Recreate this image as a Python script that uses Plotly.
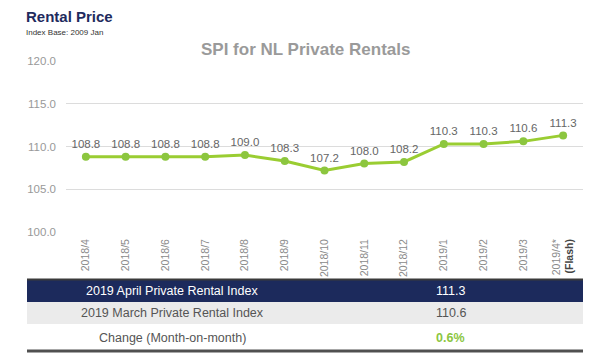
import plotly.graph_objects as go

months = ["2018/4", "2018/5", "2018/6", "2018/7", "2018/8", "2018/9", "2018/10",
          "2018/11", "2018/12", "2019/1", "2019/2", "2019/3", "2019/4*"]
tick_text = months[:-1] + ["2019/4*<br><b><span style='color:#444'>(Flash)</span></b>"]
values = [108.8, 108.8, 108.8, 108.8, 109.0, 108.3, 107.2, 108.0, 108.2, 110.3, 110.3, 110.6, 111.3]
y_ticks = [100, 105, 110, 115, 120]

table_labels = ["2019 April Private Rental Index", "2019 March Private Rental Index", "Change (Month-on-month)"]
table_values = ["111.3", "110.6", "0.6%"]

W, H = 600, 360
L, R, T, B = 66, 583, 61, 232  # plot area pixels
FONT = "Liberation Sans, Arial"


def px(x):
    return (x - L) / (R - L)


def py(y):
    return (B - y) / (B - T)


fig = go.Figure()
fig.add_trace(go.Scatter(
    x=months, y=values, mode="lines+markers+text",
    line=dict(color="#9ACD32", width=3),
    marker=dict(color="#8CC63F", size=8),
    text=[f"{v:.1f}" for v in values], textposition="top center",
    textfont=dict(family=FONT, size=11.5, color="#666666"),
    cliponaxis=False, hoverinfo="skip", showlegend=False,
))

fig.update_layout(
    width=W, height=H,
    margin=dict(l=L, r=W - R, t=T, b=H - B, pad=0),
    paper_bgcolor="white", plot_bgcolor="white",
    font=dict(family=FONT, color="#888888"),
    xaxis=dict(type="category", range=[-0.5, 12.5], tickmode="array",
               tickvals=months, ticktext=tick_text, tickangle=-90,
               tickfont=dict(size=10.5, color="#8a8a8a"), showgrid=False,
               showline=False, zeroline=False, ticks="", ticklabelstandoff=4,
               fixedrange=True),
    yaxis=dict(range=[100, 120], tickvals=y_ticks,
               ticktext=[f"{v:.1f}" for v in y_ticks],
               tickfont=dict(size=11.5, color="#999999"), gridcolor="#dcdcdc",
               gridwidth=1, showline=False, zeroline=False, ticks="",
               ticklabelstandoff=9, fixedrange=True),
)

shapes = []
# table rows
rows = [(279, 302, "#1c2a5c"), (302, 324, "#ebebeb"), (324, 350, "#ffffff")]
for y0, y1, c in rows:
    shapes.append(dict(type="rect", xref="paper", yref="paper", x0=px(27), x1=px(583),
                       y0=py(y1), y1=py(y0), fillcolor=c, line=dict(width=0), layer="above"))
shapes.append(dict(type="line", xref="paper", yref="paper", x0=px(27), x1=px(583),
                   y0=py(279.5), y1=py(279.5), line=dict(color="#3a3a3a", width=2)))
shapes.append(dict(type="line", xref="paper", yref="paper", x0=px(27), x1=px(583),
                   y0=py(351), y1=py(351), line=dict(color="#505050", width=3)))
fig.update_layout(shapes=shapes)

ann = []
ann.append(dict(text="<b>Rental Price</b>", x=px(24), y=py(16), xref="paper", yref="paper",
                xanchor="left", yanchor="middle", showarrow=False,
                font=dict(size=15, color="#1f2b5e", family=FONT)))
ann.append(dict(text="Index Base: 2009 Jan", x=px(24), y=py(32.5), xref="paper", yref="paper",
                xanchor="left", yanchor="middle", showarrow=False,
                font=dict(size=8, color="#333333", family=FONT)))
ann.append(dict(text="<b>SPI for NL Private Rentals</b>", x=px(305), y=py(49), xref="paper", yref="paper",
                xanchor="center", yanchor="middle", showarrow=False,
                font=dict(size=17, color="#9a9a9a", family=FONT)))

row_centers = [291, 313, 338]
label_colors = ["#ffffff", "#555555", "#555555"]
value_colors = ["#ffffff", "#555555", "#8CC63F"]
for i in range(3):
    ann.append(dict(text=table_labels[i], x=px(172), y=py(row_centers[i]), xref="paper", yref="paper",
                    xanchor="center", yanchor="middle", showarrow=False,
                    font=dict(size=12.5, color=label_colors[i], family=FONT)))
    vt = table_values[i] if i < 2 else f"<b>{table_values[i]}</b>"
    ann.append(dict(text=vt, x=px(450.5), y=py(row_centers[i]), xref="paper", yref="paper",
                    xanchor="center", yanchor="middle", showarrow=False,
                    font=dict(size=12.5, color=value_colors[i], family=FONT)))
fig.update_layout(annotations=ann)

fig.write_html("out.html", config={"displayModeBar": False},
               post_script="document.body.style.margin='0';")
